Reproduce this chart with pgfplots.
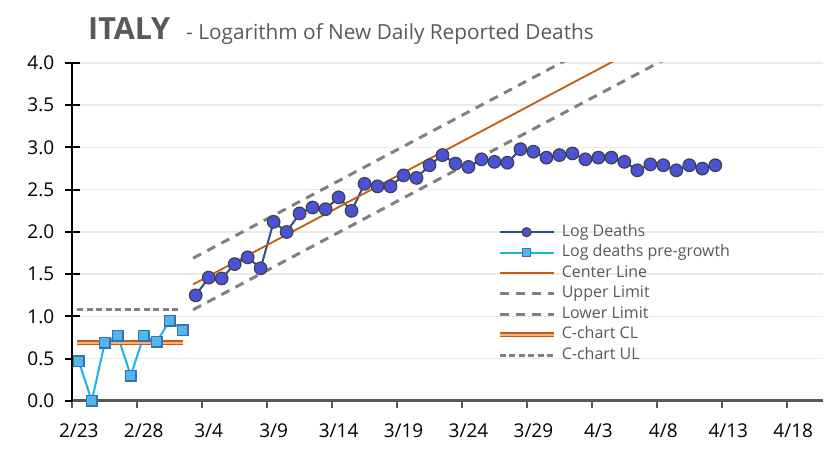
\documentclass[border=0pt]{standalone}
\usepackage{fontspec}
\setmainfont{Open Sans}
\usepackage{pgfplots}
\pgfplotsset{compat=1.18}

\definecolor{titlegray}{HTML}{595959}
\definecolor{axgray}{HTML}{595959}
\definecolor{gridgray}{HTML}{EBEBEB}
\definecolor{logline}{HTML}{2E4D8A}
\definecolor{logfill}{HTML}{4B52D4}
\definecolor{logedge}{HTML}{404050}
\definecolor{preline}{HTML}{1CB0EC}
\definecolor{prefill}{HTML}{56B4E9}
\definecolor{preedge}{HTML}{2F75B5}
\definecolor{clorange}{HTML}{C55A11}
\definecolor{cllight}{HTML}{F4B183}
\definecolor{limgray}{HTML}{808080}

% day index i is plotted at i+0.5 (2/23 = day 0)
\pgfplotstableread{
x y
9.5 1.25
10.5 1.46
11.5 1.45
12.5 1.62
13.5 1.70
14.5 1.57
15.5 2.12
16.5 2.00
17.5 2.22
18.5 2.29
19.5 2.27
20.5 2.41
21.5 2.25
22.5 2.57
23.5 2.54
24.5 2.54
25.5 2.67
26.5 2.64
27.5 2.79
28.5 2.91
29.5 2.81
30.5 2.77
31.5 2.86
32.5 2.83
33.5 2.82
34.5 2.98
35.5 2.95
36.5 2.88
37.5 2.91
38.5 2.93
39.5 2.86
40.5 2.88
41.5 2.88
42.5 2.83
43.5 2.73
44.5 2.80
45.5 2.79
46.5 2.73
47.5 2.79
48.5 2.75
49.5 2.79
}\logdeaths

\pgfplotstableread{
x y
0.5 0.47
1.5 0.00
2.5 0.69
3.5 0.77
4.5 0.30
5.5 0.77
6.5 0.70
7.5 0.95
8.5 0.84
}\pregrowth

\begin{document}
\begin{tikzpicture}
\begin{axis}[
  at={(0,0)}, anchor=south west,
  scale only axis, width=750.8pt, height=338pt,
  xmin=0, xmax=57.8, ymin=0, ymax=4,
  axis x line*=bottom, axis y line*=left,
  x axis line style={color=axgray, line width=3pt},
  y axis line style={black, line width=2pt},
  xtick={0,5,10,15,20,25,30,35,40,45,50,55},
  xticklabels={2/23,2/28,3/4,3/9,3/14,3/19,3/24,3/29,4/3,4/8,4/13,4/18},
  ytick={0,0.5,1,1.5,2,2.5,3,3.5,4},
  yticklabel style={font=\fontsize{19}{19}\selectfont, anchor=east, xshift=-7pt,
    /pgf/number format/fixed, /pgf/number format/fixed zerofill,
    /pgf/number format/precision=1, /pgf/number format/assume math mode=true},
  xticklabel style={font=\fontsize{19}{19}\selectfont, anchor=base, xshift=6.5pt, yshift=-22pt},
  ytick align=center, xtick align=outside,
  major tick length=15pt,
  ytick style={black, line width=2pt},
  xtick style={axgray, line width=2.2pt, /pgfplots/major tick length=7pt},
  ymajorgrids,
  grid style={gridgray, line width=1.5pt},
  legend style={draw=none, fill=none, at={(0.5657,0.5235)}, anchor=north west,
    font=\fontsize{16}{16}\selectfont, text=titlegray, inner sep=0pt,
    nodes={inner sep=0pt, text height=12pt, text depth=4pt},
    row sep=4.5pt, column sep=6pt},
  legend cell align=left,
  legend image code/.code={\draw[mark repeat=2,mark phase=2] plot coordinates {(0pt,0pt) (27pt,0pt) (54pt,0pt)};},
]
\addplot[logline, line width=2pt, mark=*, mark size=6.3pt,
  mark options={fill=logfill, draw=logedge, line width=1.2pt, solid},
  legend image post style={mark size=4.5pt}] table {\logdeaths};
\addlegendentry{Log Deaths}
\addplot[preline, line width=2pt, mark=square*, mark size=5.2pt,
  mark options={fill=prefill, draw=preedge, line width=1.4pt, solid},
  legend image post style={mark size=4pt}] table {\pregrowth};
\addlegendentry{Log deaths pre-growth}
\addplot[clorange, line width=1.8pt] coordinates {(9.3,1.38) (29.5,3.03) (49.5,4.66)};
\addlegendentry{Center Line}
\addplot[limgray, line width=3pt, dash pattern=on 9pt off 7pt] coordinates {(9.3,1.69) (29.5,3.34) (49.5,4.97)};
\addlegendentry{Upper Limit}
\addplot[limgray, line width=3pt, dash pattern=on 9pt off 7pt] coordinates {(9.3,1.08) (29.5,2.73) (49.5,4.36)};
\addlegendentry{Lower Limit}
\addplot[clorange, line width=1.2pt, double=cllight, double distance=2.2pt] coordinates {(0.4,0.69) (8.55,0.69)};
\addlegendentry{C-chart CL}
\addplot[limgray, line width=2.5pt, dash pattern=on 6pt off 3.5pt] coordinates {(0.4,1.085) (8.2,1.085)};
\addlegendentry{C-chart UL}
\end{axis}
\node[anchor=base west, inner sep=0pt, text=titlegray, font=\fontsize{30.5}{30.5}\selectfont\bfseries] at (15.7pt,361pt) {ITALY};
\node[anchor=base west, inner sep=0pt, text=titlegray, font=\fontsize{20.8}{20.8}\selectfont] at (113.7pt,361pt) {- Logarithm of New Daily Reported Deaths};
\useasboundingbox (-72.3pt,-48pt) rectangle (752.7pt,401pt);
\end{tikzpicture}
\end{document}
